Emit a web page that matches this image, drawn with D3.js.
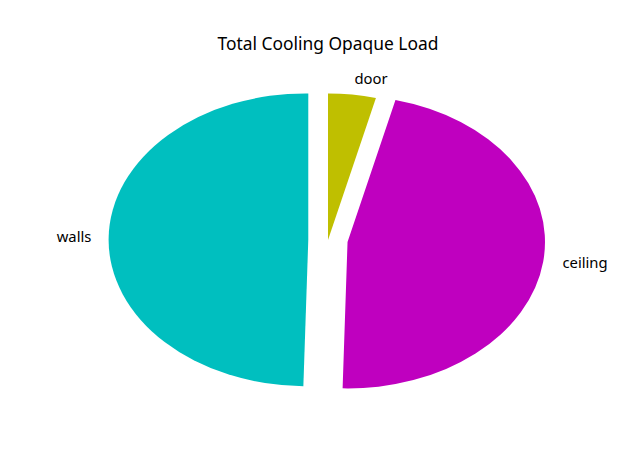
<!DOCTYPE html>
<html>
<head>
<meta charset="utf-8">
<script src="https://cdn.jsdelivr.net/npm/d3@7"></script>
<style>
  html, body { margin: 0; padding: 0; background: #fff; }
  svg { display: block; font-family: "Noto Sans", "DejaVu Sans", sans-serif; }
</style>
</head>
<body>
<svg id="chart" width="640" height="476"></svg>
<script>
const title = "Total Cooling Opaque Load";
const labels = ["walls", "ceiling", "door"];
const values = [49.6, 46.5, 3.9];
const colors = ["#00bfbf", "#bf00bf", "#bfbf00"];
const explode = [0.1, 0.1, 0];

const svg = d3.select("#chart");

// axes box, pie limits [-1.25, 1.25]
const x = d3.scaleLinear().domain([-1.25, 1.25]).range([81.5, 574.5]);
const y = d3.scaleLinear().domain([-1.25, 1.25]).range([423, 57]);

const rx = x(1) - x(0);
const ry = y(0) - y(1);

// start at top, go counterclockwise
const pie = d3.pie().sort(null).startAngle(0).endAngle(-2 * Math.PI);
const arcs = pie(values);

const arcGen = d3.arc().innerRadius(0).outerRadius(1);

const g = svg.append("g");

arcs.forEach((a, i) => {
  const mid = (a.startAngle + a.endAngle) / 2;
  const ux = Math.sin(mid), uy = Math.cos(mid);
  const cxData = explode[i] * ux, cyData = explode[i] * uy;
  const cx = x(cxData), cy = y(cyData);
  g.append("path")
    .attr("d", arcGen({startAngle: a.startAngle, endAngle: a.endAngle}))
    .attr("transform", `translate(${cx},${cy}) scale(${rx},${ry})`)
    .attr("fill", colors[i]);

  const lx = x(cxData + 1.1 * ux), ly = y(cyData + 1.1 * uy);
  svg.append("text")
    .attr("x", lx)
    .attr("y", ly)
    .attr("dy", "0.28em")
    .attr("text-anchor", ux < 0 ? "end" : "start")
    .attr("font-size", "14.8px")
    .attr("fill", "#000")
    .text(labels[i]);
});

svg.append("text")
  .attr("x", (x.range()[0] + x.range()[1]) / 2)
  .attr("y", 50)
  .attr("text-anchor", "middle")
  .attr("font-size", "17.4px")
  .attr("fill", "#000")
  .text(title);
</script>
</body>
</html>
